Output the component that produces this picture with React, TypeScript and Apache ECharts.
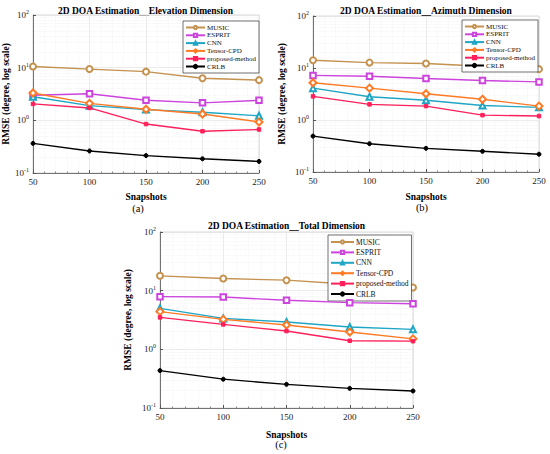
import React, { useEffect, useRef } from "react";
import * as echarts from "echarts";

const FONT = "'Liberation Serif', 'Times New Roman', serif";

const snapshots = [50, 100, 150, 200, 250];
const methodNames = ["MUSIC", "ESPRIT", "CNN", "Tensor-CPD", "proposed-method", "CRLB"];

// (a) Elevation
const musicA = [10.5, 9.4, 8.4, 6.3, 5.8];
const espritA = [3.0, 3.2, 2.4, 2.15, 2.4];
const cnnA = [2.8, 1.9, 1.6, 1.42, 1.22];
const tensorA = [3.3, 2.1, 1.62, 1.32, 0.93];
const proposedA = [2.05, 1.72, 0.85, 0.62, 0.67];
const crlbA = [0.365, 0.262, 0.214, 0.186, 0.166];

// (b) Azimuth
const musicB = [14.1, 12.7, 12.2, 10.8, 9.5];
const espritB = [7.2, 6.95, 6.3, 5.75, 5.4];
const cnnB = [4.1, 2.8, 2.4, 1.9, 1.75];
const tensorB = [5.2, 4.1, 3.2, 2.5, 1.85];
const proposedB = [2.85, 2.0, 1.85, 1.24, 1.19];
const crlbB = [0.49, 0.35, 0.285, 0.25, 0.22];

// (c) Total
const musicC = [17.9, 16.1, 15.1, 12.9, 11.3];
const espritC = [7.9, 7.8, 6.85, 6.25, 6.0];
const cnnC = [5.0, 3.37, 2.92, 2.4, 2.19];
const tensorC = [4.4, 3.24, 2.6, 1.97, 1.51];
const proposedC = [3.5, 2.66, 2.05, 1.4, 1.38];
const crlbC = [0.434, 0.31, 0.253, 0.216, 0.195];

const panelTitles = [
  "2D DOA Estimation__Elevation Dimension",
  "2D DOA Estimation__Azimuth Dimension",
  "2D DOA Estimation__Total Dimension",
];
const panelLetters = ["(a)", "(b)", "(c)"];
const yTickMinor = [0.2, 0.3, 0.4, 0.5, 0.6, 0.7, 0.8, 0.9, 2, 3, 4, 5, 6, 7, 8, 9, 20, 30, 40, 50, 60, 70, 80, 90];

const panelData = [
  [musicA, espritA, cnnA, tensorA, proposedA, crlbA],
  [musicB, espritB, cnnB, tensorB, proposedB, crlbB],
  [musicC, espritC, cnnC, tensorC, proposedC, crlbC],
];

const styles = [
  { color: "#C4914F", symbol: "emptyCircle", size: 6 },
  { color: "#CC44DD", symbol: "emptyRect", size: 5.5 },
  { color: "#1EA6C4", symbol: "emptyTriangle", size: 6 },
  { color: "#FF7A24", symbol: "emptyDiamond", size: 7 },
  { color: "#FF1F5A", symbol: "rect", size: 3.5 },
  { color: "#000000", symbol: "circle", size: 4 },
];

const grids = [
  { left: 32, top: 15, width: 227, height: 158 },
  { left: 313, top: 16, width: 226, height: 156 },
  { left: 160, top: 232, width: 253, height: 176 },
];
const yNameGap = [22, 26, 27];
const xNameGap = [19, 20, 22];
const legendPos = [
  { left: 183, top: 21, itemWidth: 19, gap: 0.8, font: 7 },
  { left: 462, top: 20, itemWidth: 19, gap: 0.8, font: 7 },
  { left: 328, top: 235, itemWidth: 23, gap: 2.4, font: 7.5 },
];
const titleY = [11, 11, 226];
const letterPos = [
  [138, 208],
  [422, 207],
  [281, 444],
];

export default function App() {
  const ref = useRef<HTMLDivElement>(null);
  useEffect(() => {
    if (!ref.current) return;
    const chart = echarts.init(ref.current, undefined, { renderer: "svg" });
    const xAxes: any[] = [];
    const yAxes: any[] = [];
    const series: any[] = [];
    const legends: any[] = [];
    const graphics: any[] = [];

    grids.forEach((g, i) => {
      xAxes.push({
        type: "value",
        gridIndex: i,
        min: 50,
        max: 250,
        interval: 50,
        name: "Snapshots",
        nameLocation: "middle",
        nameGap: xNameGap[i],
        nameTextStyle: { fontFamily: FONT, fontWeight: "bold", fontSize: 9.5, color: "#000" },
        axisLine: { show: true, lineStyle: { color: "#555", width: 0.8 } },
        axisTick: { show: true, inside: true, length: 3, lineStyle: { color: "#555" } },
        minorTick: { show: true, splitNumber: 5, length: 1.5, lineStyle: { color: "#888" } },
        axisLabel: { fontFamily: FONT, fontSize: 9, color: "#222", margin: 4 },
        splitLine: { show: true, lineStyle: { color: "#e2e2e2", width: 0.7 } },
        minorSplitLine: { show: true, lineStyle: { color: "#efefef", width: 0.6, type: "dotted" } },
      });
      yAxes.push({
        type: "log",
        logBase: 10,
        gridIndex: i,
        min: 0.1,
        max: 100,
        name: "RMSE (degree, log scale)",
        nameLocation: "middle",
        nameGap: yNameGap[i],
        nameTextStyle: { fontFamily: FONT, fontWeight: "bold", fontSize: 9.5, color: "#000" },
        axisLine: { show: true, lineStyle: { color: "#555", width: 0.8 } },
        axisTick: { show: true, inside: true, length: 3, lineStyle: { color: "#555" } },
        axisLabel: {
          margin: 4,
          formatter: (v: number) => `{b|10}{s|${Math.round(Math.log10(v))}}`,
          rich: {
            b: { fontFamily: FONT, fontSize: 9, color: "#222", lineHeight: 12 },
            s: { fontFamily: FONT, fontSize: 6, color: "#222", verticalAlign: "top", lineHeight: 6 },
          },
        },
        splitLine: { show: true, lineStyle: { color: "#e2e2e2", width: 0.7 } },
      });
      series.push({
        type: "line",
        xAxisIndex: i,
        yAxisIndex: i,
        data: [],
        silent: true,
        z: 0,
        markLine: {
          silent: true,
          z: 0,
          symbol: ["none", "none"],
          label: { show: false },
          emphasis: { disabled: true },
          lineStyle: { color: "#ececec", width: 0.6, type: "dotted" },
          data: yTickMinor.map((v) => ({ yAxis: v })),
        },
      });
      methodNames.forEach((name, m) => {
        const st = styles[m];
        series.push({
          type: "line",
          name,
          xAxisIndex: i,
          yAxisIndex: i,
          data: snapshots.map((x, k) => [x, panelData[i][m][k]]),
          symbol: st.symbol,
          symbolSize: st.size,
          showAllSymbol: true,
          lineStyle: { color: st.color, width: 1.4 },
          itemStyle: { color: st.color, borderColor: st.color, borderWidth: 1 },
          z: 3 + m,
        });
      });
      const lp = legendPos[i];
      legends.push({
        orient: "vertical",
        left: lp.left,
        top: lp.top,
        data: methodNames,
        itemWidth: lp.itemWidth,
        itemHeight: 4,
        itemGap: lp.gap,
        padding: [3, 3, 3, 2],
        backgroundColor: "#fff",
        borderColor: "#333",
        borderWidth: 0.7,
        borderRadius: 0,
        selectedMode: false,
        textStyle: { fontFamily: FONT, fontSize: lp.font, color: "#111", padding: [0, 0, 0, -3], lineHeight: 7 },
      });
      graphics.push({
        type: "text",
        x: g.left + g.width / 2,
        y: titleY[i],
        style: {
          text: panelTitles[i],
          fontFamily: FONT,
          fontWeight: "bold",
          fontSize: 9.5,
          fill: "#000",
          textAlign: "center",
          textVerticalAlign: "middle",
        },
      });
      graphics.push({
        type: "text",
        x: letterPos[i][0],
        y: letterPos[i][1],
        style: {
          text: panelLetters[i],
          fontFamily: FONT,
          fontSize: 10.5,
          fill: "#000",
          textAlign: "center",
          textVerticalAlign: "middle",
        },
      });
    });

    chart.setOption({
      animation: false,
      backgroundColor: "#fff",
      grid: grids.map((g) => ({
        ...g,
        show: true,
        borderColor: "#c8c8c8",
        borderWidth: 0.7,
        backgroundColor: "#fff",
        containLabel: false,
      })),
      xAxis: xAxes,
      yAxis: yAxes,
      legend: legends,
      series,
      graphic: graphics,
    });
    return () => chart.dispose();
  }, []);
  return (
    <div
      ref={ref}
      style={{ position: "fixed", left: 0, top: 0, width: 550, height: 454, background: "#fff" }}
    />
  );
}
